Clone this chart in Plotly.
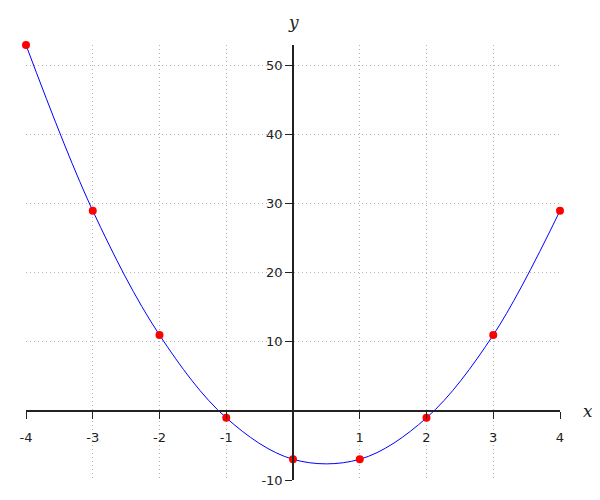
import plotly.graph_objects as go

x_vals = [-4, -3, -2, -1, 0, 1, 2, 3, 4]
y_vals = [53, 29, 11, -1, -7, -7, -1, 11, 29]
x_ticks = [-4, -3, -2, -1, 1, 2, 3, 4]
x_tick_labels = ["-4", "-3", "-2", "-1", "1", "2", "3", "4"]
y_ticks = [-10, 10, 20, 30, 40, 50]
y_tick_labels = ["-10", "10", "20", "30", "40", "50"]

x_range = [-4, 4]
y_range = [-10, 53]

fig = go.Figure()
fig.add_trace(go.Scatter(x=x_vals, y=y_vals, mode="lines",
                         line=dict(color="blue", width=1, shape="spline", smoothing=1.0),
                         hoverinfo="skip", showlegend=False, cliponaxis=False))
fig.add_trace(go.Scatter(x=x_vals, y=y_vals, mode="markers",
                         marker=dict(color="red", size=8),
                         showlegend=False, cliponaxis=False))

x_pos = (0 - y_range[0]) / (y_range[1] - y_range[0])
y_pos = (0 - x_range[0]) / (x_range[1] - x_range[0])

tickfont = dict(family="DejaVu Sans", size=13, color="#222")
grid = dict(showgrid=True, gridcolor="#b4b4b4", griddash="1px,3px", gridwidth=1)
fig.update_layout(
    width=584, height=484,
    margin=dict(l=18, r=32, t=37, b=12, autoexpand=False),
    plot_bgcolor="white", paper_bgcolor="white",
    xaxis=dict(range=x_range, domain=[0, 1], anchor="free", position=x_pos,
               tickvals=x_ticks, ticktext=x_tick_labels, ticks="outside", ticklen=7,
               tickcolor="#222", showline=True, linecolor="#222", linewidth=1.5,
               zeroline=False, tickfont=tickfont, ticklabelstandoff=8,
               automargin=False, **grid),
    yaxis=dict(range=y_range, domain=[0, 1], anchor="free", position=y_pos,
               tickvals=y_ticks, ticktext=y_tick_labels, ticks="outside", ticklen=7,
               tickcolor="#222", showline=True, linecolor="#222", linewidth=1.5,
               zeroline=False, tickfont=tickfont, automargin=False, **grid),
    annotations=[
        dict(text="<i>y</i>", x=y_pos, y=1, xref="paper", yref="paper", yshift=23,
             showarrow=False, font=dict(family="DejaVu Serif", size=17, color="#222"),
             xanchor="center", yanchor="middle"),
        dict(text="<i>x</i>", x=1, y=x_pos, xref="paper", yref="paper", xshift=28,
             showarrow=False, font=dict(family="DejaVu Serif", size=17, color="#222"),
             xanchor="center", yanchor="middle"),
    ],
)
fig.write_html("out.html")
